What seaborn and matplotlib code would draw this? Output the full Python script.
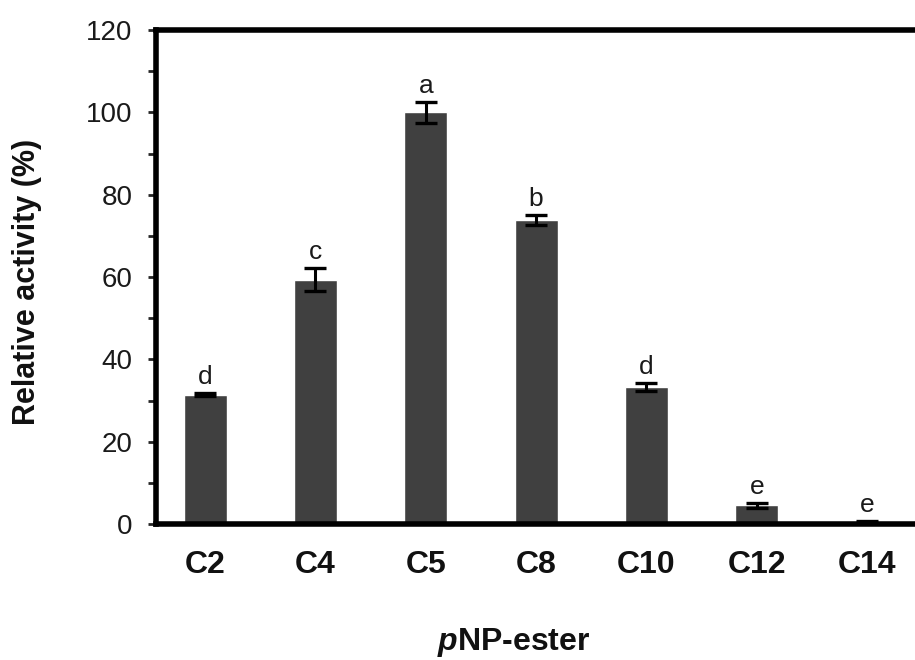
import numpy as np
import pandas as pd
import seaborn as sns
import matplotlib.pyplot as plt

# data
substrates = ['C2', 'C4', 'C5', 'C8', 'C10', 'C12', 'C14']
activity = [31.4, 59.4, 100.0, 73.8, 33.3, 4.6, 0.5]
err = [0.4, 2.8, 2.6, 1.2, 1.0, 0.6, 0.3]
letters = ['d', 'c', 'a', 'b', 'd', 'e', 'e']

sns.set_theme(style='white')
plt.rcParams['font.family'] = ['Liberation Sans', 'DejaVu Sans']
plt.rcParams['mathtext.fontset'] = 'custom'
plt.rcParams['mathtext.it'] = 'Liberation Sans:italic:bold'
plt.rcParams['mathtext.rm'] = 'Liberation Sans:bold'

df = pd.DataFrame({'substrate': substrates, 'activity': activity})

fig = plt.figure(figsize=(9.15, 6.6), dpi=100)
ax = fig.add_axes([0.1705, 0.206, 0.832, 0.7485])

sns.barplot(data=df, x='substrate', y='activity', color='#404040',
            saturation=1, width=0.39, errorbar=None, ax=ax)

xpos = np.arange(len(substrates))
ax.errorbar(xpos, activity, yerr=err, fmt='none', ecolor='black',
            elinewidth=2.2, capsize=8, capthick=2.4, zorder=3)

for x, v, e, t in zip(xpos, activity, err, letters):
    ax.text(x, v + e + 1.0, t, ha='center', va='bottom', fontsize=19,
            color='#1a1a1a')

ax.set_ylim(0, 120)
ax.set_xlim(-0.445, 6.455)
ax.set_yticks(range(0, 121, 20))
ax.set_yticks(range(0, 121, 10), minor=True)
ax.tick_params(axis='y', which='major', direction='out', length=6, width=2,
               labelsize=20, left=True, pad=11, labelcolor='#1a1a1a')
ax.tick_params(axis='y', which='minor', direction='out', length=6, width=2,
               left=True)
ax.tick_params(axis='x', length=0, labelsize=23, pad=19, labelcolor='#111111')
for lbl in ax.get_xticklabels():
    lbl.set_fontweight('bold')

for s in ax.spines.values():
    s.set_linewidth(4)
    s.set_color('black')

ax.set_ylabel('Relative activity (%)', fontsize=22, fontweight='bold',
              color='#111111')
ax.yaxis.set_label_coords(-0.15, 0.49)
ax.set_xlabel(r'$\mathit{p}$NP-ester', fontsize=23, fontweight='bold',
              color='#111111')
ax.xaxis.set_label_coords(0.47, -0.206)

fig.savefig('out.png', dpi=100)
